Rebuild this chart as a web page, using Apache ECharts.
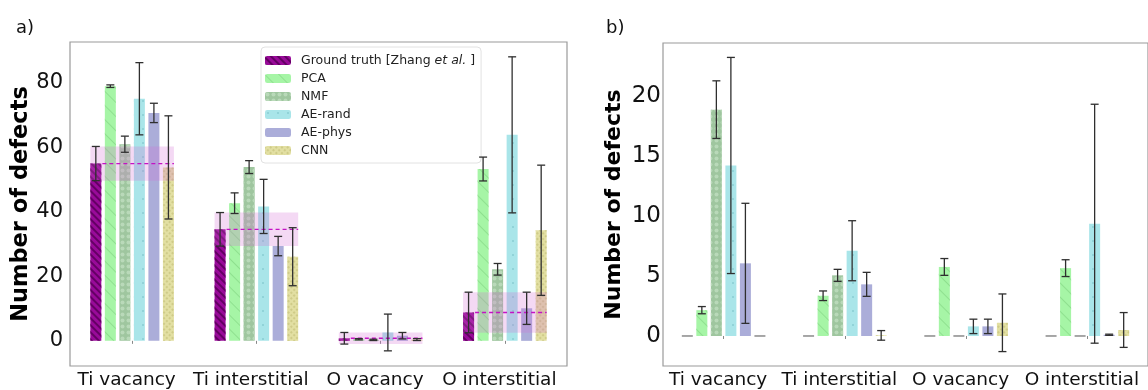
<!DOCTYPE html>
<html>
<head>
<meta charset="utf-8">
<script src="https://cdn.jsdelivr.net/npm/echarts@6/dist/echarts.min.js"></script>
<style>
  html, body { margin: 0; padding: 0; background: #fff; }
  #main { width: 1148px; height: 390px; }
</style>
</head>
<body>
<div id="main"></div>
<script>
// categories + methods
var categories = ['Ti vacancy', 'Ti interstitial', 'O vacancy', 'O interstitial'];
var methods = ['Ground truth [Zhang et al.]', 'PCA', 'NMF', 'AE-rand', 'AE-phys', 'CNN'];

// panel a) values and error bars
var gtA = [55, 34.6, 0.8, 8.8];
var gtErrA = [5.3, 5.2, 1.8, 6.3];
var pcaA = [79, 42.7, 0.5, 53.3];
var pcaErrA = [0.4, 3.2, 0.2, 3.7];
var nmfA = [61, 53.9, 0.3, 22.2];
var nmfErrA = [2.5, 2, 0.2, 1.8];
var aeRandA = [75.1, 41.7, 2.6, 63.9];
var aeRandErrA = [11.2, 8.4, 5.7, 24.2];
var aePhysA = [70.7, 29.4, 1.6, 10.1];
var aePhysErrA = [3, 3, 1, 5];
var cnnA = [53.8, 26.1, 0.4, 34.3];
var cnnErrA = [16, 9, 0.3, 20.2];

// panel b) values and error bars
var gtB = [0, 0, 0, 0];
var gtErrB = [0, 0, 0, 0];
var pcaB = [2.15, 3.35, 5.75, 5.65];
var pcaErrB = [0.3, 0.4, 0.7, 0.7];
var nmfB = [18.85, 5.05, 0, 0];
var nmfErrB = [2.4, 0.5, 0, 0];
var aeRandB = [14.2, 7.1, 0.8, 9.35];
var aeRandErrB = [9, 2.5, 0.6, 9.95];
var aePhysB = [6.05, 4.3, 0.8, 0.1];
var aePhysErrB = [5, 1, 0.6, 0.05];
var cnnB = [0, 0.05, 1.1, 0.5];
var cnnErrB = [0, 0.4, 2.4, 1.45];

var yTicksA = [0, 20, 40, 60, 80];
var yTicksB = [0, 5, 10, 15, 20];

var valsA = [gtA, pcaA, nmfA, aeRandA, aePhysA, cnnA];
var errsA = [gtErrA, pcaErrA, nmfErrA, aeRandErrA, aePhysErrA, cnnErrA];
var valsB = [gtB, pcaB, nmfB, aeRandB, aePhysB, cnnB];
var errsB = [gtErrB, pcaErrB, nmfErrB, aeRandErrB, aePhysErrB, cnnErrB];

var BW = 11;          // bar width px
var GAPR = 0.32;      // barGap ratio
var STEP = BW * (1 + GAPR);
var HALF = (6 * BW + 5 * BW * GAPR) / 2;

var FONT = 'DejaVu Sans';

var styles = [
  { color: '#990a99', decal: { symbol: 'rect', symbolSize: 1, color: '#640064', dashArrayX: [1, 0], dashArrayY: [1.2, 3], rotation: Math.PI / 4 } },
  { color: '#a6f5a6', decal: { symbol: 'rect', symbolSize: 1, color: '#8fe08f', dashArrayX: [1, 0], dashArrayY: [1, 9], rotation: Math.PI / 4 } },
  { color: '#9fc69f', decal: { symbol: 'circle', symbolSize: 0.8, color: '#b9d9b9', dashArrayX: [5, 1], dashArrayY: [5, 1] } },
  { color: '#a9e5e9', decal: { symbol: 'circle', symbolSize: 0.25, color: '#6fb8be', dashArrayX: [6, 4], dashArrayY: [6, 8] } },
  { color: '#abadd9', decal: null },
  { color: '#e2dfa2', decal: { symbol: 'rect', symbolSize: 1, color: '#cfcb88', dashArrayX: [2, 2], dashArrayY: [2, 2], rotation: Math.PI / 4 } }
];

function errRender(k) {
  return function (params, api) {
    var c = api.value(0), v = api.value(1), e = api.value(2);
    var p = api.coord([c, v]);
    var x = p[0] + (k - 2.5) * STEP;
    if (e === 0) {
      if (v !== 0) return null;
      // zero-height bar shows as a grey dash
      return {
        type: 'line',
        shape: { x1: x - BW / 2, y1: p[1], x2: x + BW / 2, y2: p[1] },
        style: { stroke: '#8a8a8a', lineWidth: 1.5 }
      };
    }
    var top = api.coord([c, v + e])[1];
    var bot = api.coord([c, v - e])[1];
    var st = { stroke: '#2f2f2f', lineWidth: 1.3 };
    return {
      type: 'group',
      children: [
        { type: 'line', shape: { x1: x, y1: top, x2: x, y2: bot }, style: st },
        { type: 'line', shape: { x1: x - 4, y1: top, x2: x + 4, y2: top }, style: st },
        { type: 'line', shape: { x1: x - 4, y1: bot, x2: x + 4, y2: bot }, style: st }
      ]
    };
  };
}

// pink band (ground truth +- err) with dashed line, panel a only
function bandRender(params, api) {
  var c = api.value(0), v = api.value(1), e = api.value(2);
  var p = api.coord([c, v]);
  var top = api.coord([c, v + e])[1];
  var bot = api.coord([c, v - e])[1];
  var x0 = p[0] - HALF, x1 = p[0] + HALF;
  return {
    type: 'group',
    children: [
      { type: 'rect', shape: { x: x0, y: top, width: x1 - x0, height: bot - top }, style: { fill: 'rgba(214,110,214,0.26)' } },
      { type: 'line', shape: { x1: x0 + BW + 1, y1: p[1], x2: x1, y2: p[1] }, style: { stroke: '#c412c4', lineWidth: 1.3, lineDash: [4, 3] } }
    ]
  };
}

var series = [];
function addPanel(idx, vals, errs) {
  for (var k = 0; k < 6; k++) {
    series.push({
      name: methods[k],
      type: 'bar',
      xAxisIndex: idx,
      yAxisIndex: idx,
      barWidth: BW,
      barGap: (GAPR * 100) + '%',
      data: vals[k],
      z: 2,
      itemStyle: { color: styles[k].color, decal: styles[k].decal },
      emphasis: { disabled: true }
    });
  }
  if (idx === 0) {
    var band = [];
    for (var i = 0; i < categories.length; i++) band.push([i, gtA[i], gtErrA[i]]);
    series.push({
      name: 'band',
      type: 'custom',
      xAxisIndex: 0,
      yAxisIndex: 0,
      renderItem: bandRender,
      data: band,
      z: 3,
      silent: true
    });
  }
  for (var k2 = 0; k2 < 6; k2++) {
    var d = [];
    for (var j = 0; j < categories.length; j++) d.push([j, vals[k2][j], errs[k2][j]]);
    series.push({
      name: 'err' + idx + '_' + k2,
      type: 'custom',
      xAxisIndex: idx,
      yAxisIndex: idx,
      renderItem: errRender(k2),
      data: d,
      z: 4,
      silent: true
    });
  }
}
addPanel(0, valsA, errsA);
addPanel(1, valsB, errsB);

function xAxisCfg(gi) {
  return {
    type: 'category',
    gridIndex: gi,
    data: categories,
    axisLine: { show: false },
    axisTick: { show: true, length: 3, alignWithLabel: true, lineStyle: { color: '#888' } },
    axisLabel: { interval: 0, hideOverlap: false, fontFamily: FONT, fontSize: 18.5, color: '#111', margin: 5, padding: [0, 11, 0, 0] }
  };
}

function yAxisCfg(gi, min, max, ticks, fs, nfs, margin, ngap) {
  return {
    type: 'value',
    gridIndex: gi,
    min: min,
    max: max,
    name: 'Number of defects',
    nameLocation: 'middle',
    nameGap: ngap,
    nameTextStyle: { fontFamily: FONT, fontWeight: 'bold', fontSize: nfs, color: '#000' },
    axisLine: { show: false },
    axisTick: { show: false },
    splitLine: { show: false },
    axisLabel: { customValues: ticks, fontFamily: FONT, fontSize: fs, color: '#111', margin: margin }
  };
}

var chart = echarts.init(document.getElementById('main'), null, { renderer: 'canvas', devicePixelRatio: 1 });

var option = {
  animation: false,
  backgroundColor: '#fff',
  title: [
    { text: 'a)', left: 11, top: 14, textStyle: { fontFamily: FONT, fontSize: 18, fontWeight: 'normal', color: '#111' } },
    { text: 'b)', left: 601, top: 14, textStyle: { fontFamily: FONT, fontSize: 18, fontWeight: 'normal', color: '#111' } }
  ],
  grid: [
    { left: 70, top: 42, width: 497, height: 324, show: true, borderColor: '#9a9a9a', borderWidth: 1.2, backgroundColor: 'transparent' },
    { left: 663, top: 43, width: 494, height: 323, show: true, borderColor: '#9a9a9a', borderWidth: 1.2, backgroundColor: 'transparent' }
  ],
  legend: {
    data: methods,
    orient: 'vertical',
    left: 261,
    top: 47,
    itemWidth: 26,
    itemHeight: 9,
    itemGap: 4,
    padding: [7, 6, 6, 4],
    backgroundColor: '#fff',
    borderColor: '#e2e2e2',
    borderWidth: 1,
    borderRadius: 4,
    selectedMode: false,
    formatter: function (name) {
      if (name === methods[0]) return '{n|Ground truth [Zhang }{i|et al.}{n| ]}';
      return '{n|' + name + '}';
    },
    textStyle: {
      padding: [0, 0, 0, 5],
      rich: {
        n: { fontFamily: FONT, fontSize: 12.5, color: '#222', lineHeight: 14 },
        i: { fontFamily: FONT, fontSize: 12.5, color: '#222', fontStyle: 'italic', lineHeight: 14 }
      }
    }
  },
  xAxis: [xAxisCfg(0), xAxisCfg(1)],
  yAxis: [
    yAxisCfg(0, -7.8, 92.7, yTicksA, 21, 22.5, 7, 37),
    yAxisCfg(1, -2.5, 24.4, yTicksB, 23, 22, 2, 38)
  ],
  series: series
};
// legend row spacing a bit looser than the default
option.legend.itemGap = 5;
chart.setOption(option);
</script>
</body>
</html>
